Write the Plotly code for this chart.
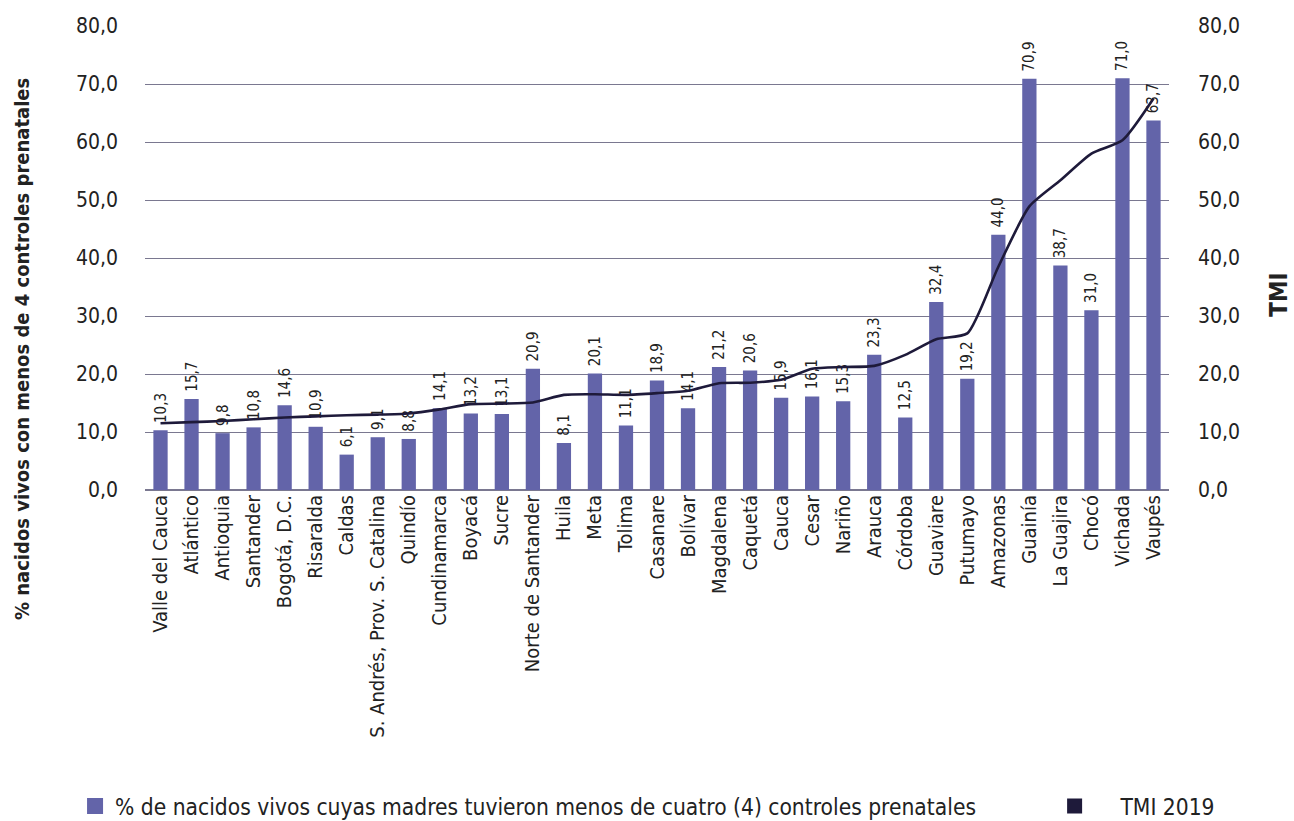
import plotly.graph_objects as go

categories = ["Valle del Cauca", "Atlántico", "Antioquia", "Santander", "Bogotá, D.C.", "Risaralda",
              "Caldas", "S. Andrés, Prov. S. Catalina", "Quindío", "Cundinamarca", "Boyacá", "Sucre",
              "Norte de Santander", "Huila", "Meta", "Tolima", "Casanare", "Bolívar", "Magdalena",
              "Caquetá", "Cauca", "Cesar", "Nariño", "Arauca", "Córdoba", "Guaviare", "Putumayo",
              "Amazonas", "Guainía", "La Guajira", "Chocó", "Vichada", "Vaupés"]
pct_menos4 = [10.3, 15.7, 9.8, 10.8, 14.6, 10.9, 6.1, 9.1, 8.8, 14.1, 13.2, 13.1, 20.9, 8.1, 20.1,
              11.1, 18.9, 14.1, 21.2, 20.6, 15.9, 16.1, 15.3, 23.3, 12.5, 32.4, 19.2, 44.0, 70.9,
              38.7, 31.0, 71.0, 63.7]
tmi_2019 = [11.5, 11.7, 11.9, 12.2, 12.5, 12.7, 12.9, 13.0, 13.2, 13.9, 14.8, 14.9, 15.1, 16.4,
            16.5, 16.4, 16.7, 17.1, 18.4, 18.5, 19.0, 20.9, 21.2, 21.4, 23.3, 26.0, 27.0, 38.5,
            48.9, 53.4, 58.0, 60.3, 67.5]
y_ticks = [0, 10, 20, 30, 40, 50, 60, 70, 80]
y_ticklabels = ["0,0", "10,0", "20,0", "30,0", "40,0", "50,0", "60,0", "70,0", "80,0"]
bar_name = "% de nacidos vivos cuyas madres tuvieron menos de cuatro (4) controles prenatales"
line_name = "TMI 2019"

FONT = "DejaVu Sans Condensed, Liberation Sans Narrow, Roboto, sans-serif"
BAR_COLOR = "#6364A9"
LINE_COLOR = "#1E1A3A"
GRID = "#7A7890"
TXT = "#222222"

bar_labels = ["\u00a0" + f"{v:.1f}".replace(".", ",") for v in pct_menos4]

fig = go.Figure()
fig.add_trace(go.Bar(
    x=categories, y=pct_menos4, name=bar_name, showlegend=False,
    marker=dict(color=BAR_COLOR, line=dict(width=0)), width=0.46,
    text=bar_labels, textposition="outside", textangle=-90, constraintext="none",
    textfont=dict(family=FONT, size=15, color=TXT), cliponaxis=False, hoverinfo="x+y",
))
fig.add_trace(go.Scatter(
    x=categories, y=tmi_2019, yaxis="y2", mode="lines", name=line_name, showlegend=False,
    line=dict(color=LINE_COLOR, width=2.6, shape="spline", smoothing=0.6),
))
# legend-only entries (square swatches as in the reference)
fig.add_trace(go.Scatter(
    x=[None], y=[None], mode="markers", name=bar_name, legend="legend",
    marker=dict(symbol="square", size=16, color=BAR_COLOR),
))
fig.add_trace(go.Scatter(
    x=[None], y=[None], yaxis="y2", mode="markers",
    name="\u00a0\u00a0\u00a0\u00a0" + line_name, legend="legend2",
    marker=dict(symbol="square", size=15, color=LINE_COLOR),
))

fig.update_layout(
    width=1294, height=821, autosize=False,
    margin=dict(l=145, r=125, t=26, b=331),
    paper_bgcolor="white", plot_bgcolor="white",
    font=dict(family=FONT, color=TXT),
    separators=",.",
    showlegend=True,
    legend=dict(orientation="h", xref="container", yref="container", x=0.058, y=0.018,
                xanchor="left", yanchor="middle",
                font=dict(family=FONT, size=22.6, color=TXT), itemsizing="trace"),
    legend2=dict(orientation="h", xref="container", yref="container", x=0.815, y=0.018,
                 xanchor="left", yanchor="middle",
                 font=dict(family=FONT, size=22.6, color=TXT), itemsizing="trace"),
    xaxis=dict(tickangle=-90, tickfont=dict(family=FONT, size=20, color=TXT),
               showgrid=False, showline=False, ticks="", range=[-0.5, 32.5]),
    yaxis=dict(range=[0, 80], tickvals=y_ticks, ticktext=y_ticklabels,
               tickfont=dict(family=FONT, size=21, color=TXT),
               showgrid=True, gridcolor=GRID, gridwidth=1, zeroline=True, zerolinecolor=GRID,
               zerolinewidth=1.5, showline=False, ticks="", ticklabelstandoff=26),
    yaxis2=dict(range=[0, 80], tickvals=y_ticks, ticktext=y_ticklabels, overlaying="y", side="right",
                tickfont=dict(family=FONT, size=21, color=TXT), showgrid=False, zeroline=False,
                showline=False, ticks="", ticklabelstandoff=28),
    annotations=[
        dict(text="<b>% nacidos vivos con menos de 4 controles prenatales</b>", textangle=-90,
             xref="paper", yref="paper", x=-0.120, y=0.304, showarrow=False,
             font=dict(family=FONT, size=20, color=TXT), xanchor="center", yanchor="middle"),
        dict(text="<b>TMI</b>", textangle=-90, xref="paper", yref="paper", x=1.108, y=0.42,
             showarrow=False, font=dict(family=FONT, size=24, color=TXT),
             xanchor="center", yanchor="middle"),
    ],
)

fig.write_html("out.html")
